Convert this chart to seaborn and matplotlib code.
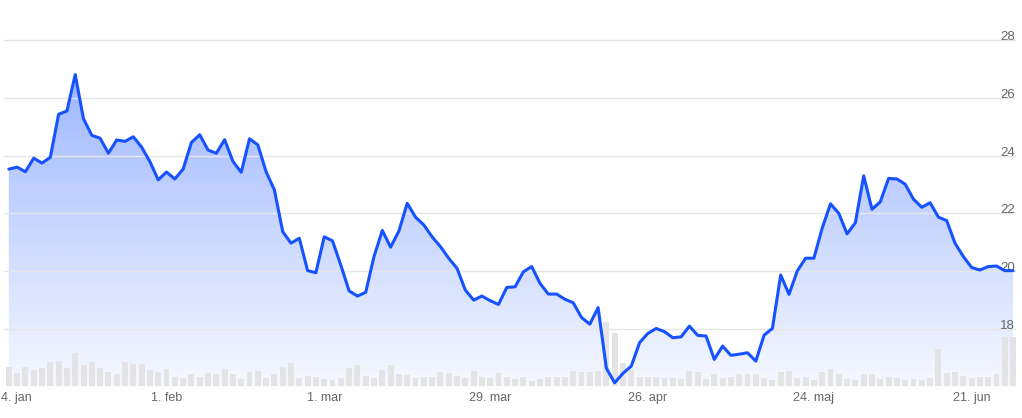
import matplotlib.pyplot as plt
import matplotlib.colors as mcolors
import matplotlib.transforms as mtransforms
import numpy as np
import pandas as pd
import seaborn as sns

# Daily closing price (one value per trading day, 4. jan - end of jun)
price = [
    23.53, 23.60, 23.44, 23.91, 23.74, 23.94, 25.43, 25.54, 26.80, 25.27,
    24.70, 24.60, 24.08, 24.54, 24.49, 24.65, 24.29, 23.79, 23.16, 23.43,
    23.19, 23.53, 24.45, 24.72, 24.19, 24.08, 24.55, 23.80, 23.42, 24.58,
    24.37, 23.44, 22.81, 21.37, 20.97, 21.14, 20.02, 19.95, 21.19, 21.05,
    20.21, 19.32, 19.14, 19.27, 20.51, 21.41, 20.83, 21.39, 22.35, 21.87,
    21.60, 21.19, 20.85, 20.45, 20.10, 19.35, 19.00, 19.14, 18.98, 18.85,
    19.44, 19.46, 19.98, 20.16, 19.58, 19.21, 19.21, 19.03, 18.91, 18.40,
    18.17, 18.74, 16.64, 16.14, 16.47, 16.72, 17.53, 17.85, 18.02, 17.91,
    17.70, 17.73, 18.10, 17.78, 17.76, 16.95, 17.41, 17.09, 17.13, 17.18,
    16.89, 17.79, 18.02, 19.87, 19.20, 20.01, 20.45, 20.45, 21.49, 22.33,
    22.00, 21.29, 21.68, 23.30, 22.14, 22.40, 23.21, 23.19, 23.01, 22.49,
    22.21, 22.37, 21.87, 21.75, 20.97, 20.51, 20.13, 20.04, 20.16, 20.18,
    20.02, 20.02,
]

# Daily traded volume (relative units)
volume = [
    19.3, 12.7, 19.3, 16.0, 18.3, 23.7, 25.0, 18.3, 33.3, 21.0,
    23.7, 18.3, 13.7, 11.7, 23.7, 22.0, 22.0, 16.0, 13.7, 17.0,
    9.3, 7.7, 11.7, 9.3, 12.7, 11.7, 17.0, 11.7, 7.0, 13.7,
    15.0, 7.7, 12.0, 19.3, 22.7, 7.7, 10.3, 9.3, 7.0, 6.0,
    7.7, 18.3, 21.0, 10.3, 8.3, 16.0, 21.0, 11.7, 11.0, 7.7,
    9.3, 9.3, 13.7, 12.7, 10.3, 7.7, 15.0, 9.3, 7.7, 12.7,
    9.3, 7.0, 9.3, 5.3, 7.0, 9.3, 9.3, 9.3, 15.0, 14.3,
    14.3, 15.3, 64.3, 52.7, 22.7, 17.0, 9.3, 8.7, 9.3, 8.3,
    8.3, 7.0, 15.0, 13.7, 7.0, 11.7, 8.3, 9.3, 11.7, 11.7,
    11.7, 7.7, 6.0, 13.7, 15.0, 8.3, 9.3, 6.0, 13.7, 16.7,
    12.0, 7.0, 6.0, 11.7, 11.7, 7.0, 9.3, 8.3, 6.0, 7.0,
    6.0, 8.3, 36.7, 12.7, 14.3, 10.3, 8.3, 9.3, 9.3, 11.7,
    49.3, 49.3,
]

tick_days = [0, 19, 38, 58, 77, 97, 116]
tick_labels = ["4. jan", "1. feb", "1. mar", "29. mar", "26. apr",
               "24. maj", "21. jun"]
price_ticks = [18, 20, 22, 24, 26, 28]

LINE = "#1652ff"
TEXT = "#666666"

sns.set_style("white")
plt.rcParams['font.family'] = ['Liberation Sans', 'DejaVu Sans']

df = pd.DataFrame({"dag": np.arange(len(price)), "kurs": price,
                   "volumen": volume})

fig = plt.figure(figsize=(10.22, 4.18), dpi=100)
ax = fig.add_axes([4 / 1022, 32 / 418, 1012 / 1022, 386 / 418])

x_lo, x_hi = -0.58, 121.35
y_lo, y_hi = 16.03, 29.38

# gradient area under the price line
grad = np.zeros((256, 1, 4))
grad[..., :3] = mcolors.to_rgb(LINE)
grad[:, 0, 3] = np.linspace(0.42, 0.04, 256)
im = ax.imshow(grad, aspect="auto", origin="upper", zorder=1,
               extent=[x_lo, x_hi, y_lo, df["kurs"].max()])
poly = ax.fill_between(df["dag"], df["kurs"], y_lo, facecolor="none",
                       edgecolor="none")
im.set_clip_path(poly.get_paths()[0], transform=poly.get_transform())

# volume bars along the bottom, scaled into the lower part of the axes
vol_scale = (y_hi - y_lo) / (df["volumen"].max() * 6)
ax.bar(df["dag"], df["volumen"] * vol_scale, bottom=y_lo, width=0.72,
       color="#e4e4e4", linewidth=0, zorder=1.5)

sns.lineplot(data=df, x="dag", y="kurs", color=LINE, linewidth=2.2,
             ax=ax, zorder=3)

ax.set_xlim(x_lo, x_hi)
ax.set_ylim(y_lo, y_hi)
ax.set_xlabel("")
ax.set_ylabel("")
for s in ax.spines.values():
    s.set_visible(False)

ax.set_axisbelow(False)
ax.yaxis.grid(True, color="#e6e6e6", linewidth=1, zorder=2)
ax.xaxis.grid(False)

ax.set_xticks(tick_days, tick_labels)
ax.set_yticks(price_ticks)
ax.tick_params(axis="x", length=0, pad=4, labelsize=9, labelcolor=TEXT)
ax.tick_params(axis="y", length=0, left=False, right=False,
               labelleft=False, labelright=True, pad=-1, labelsize=9.5,
               labelcolor=TEXT)
for lab in ax.get_yticklabels():
    lab.set_ha("right")
    lab.set_va("baseline")

first = ax.get_xticklabels()[0]
first.set_ha("left")
first.set_transform(first.get_transform() + mtransforms.ScaledTranslation(
    -8 / 100, 0, fig.dpi_scale_trans))

fig.savefig("out.png", dpi=100, facecolor="white")
